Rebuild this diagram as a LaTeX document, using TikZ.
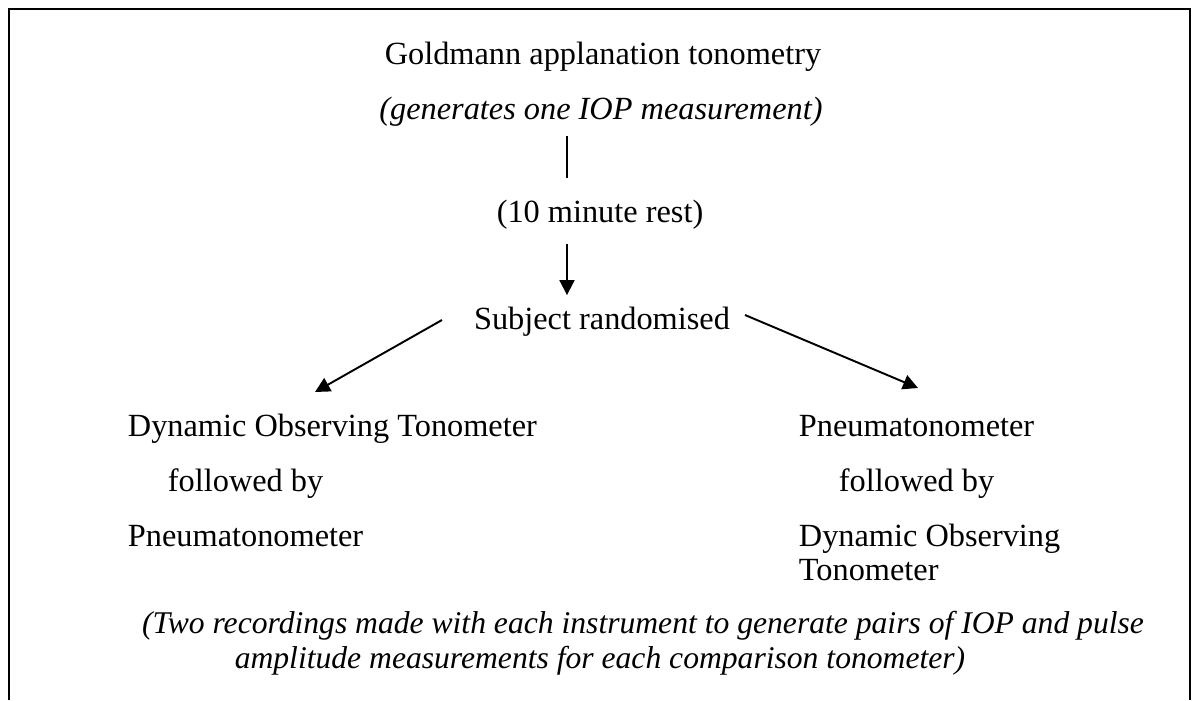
\documentclass[tikz,border=0pt]{standalone}
\usepackage{fontspec}
\setmainfont{Liberation Serif}
\usetikzlibrary{arrows.meta}
\begin{document}
\begin{tikzpicture}[x=0.02cm,y=-0.02cm,line width=1.1pt,>={Triangle[length=8.5pt,width=8.5pt]},
	font=\fontsize{18.4}{22}\selectfont,
	txt/.style={inner sep=0pt,anchor=base west},
	mid/.style={inner sep=0pt,anchor=base},
	note/.style={mid,font=\fontsize{18}{22}\selectfont\itshape}]
		\useasboundingbox (0,0) rectangle (1197,700);
		\draw (9,700)--(9,9)--(1190,9)--(1190,700);
		\node[mid] (gold) at (603,64) {Goldmann applanation tonometry};
		\node[mid] (gen) at (601,119) {\itshape (generates one IOP measurement)};
		\node[mid] (rest) at (600,222) {(10 minute rest)};
		\node[mid] (subj) at (602,329) {Subject randomised};
		\node[txt] (dotA) at (127,436) {Dynamic Observing Tonometer};
		\node[txt] (folA) at (167,491) {followed by};
		\node[txt] (pneA) at (127,546) {Pneumatonometer};
		\node[txt] (pneB) at (798,436) {Pneumatonometer};
		\node[txt] (folB) at (838,491) {followed by};
		\node[txt] (dotB) at (798,546) {Dynamic Observing};
		\node[txt] (tonB) at (798,580) {Tonometer};
		\node[note] (note1) at (643,633) {(Two recordings made with each instrument to generate pairs of IOP and pulse};
		\node[note] (note2) at (600,668) {amplitude measurements for each comparison tonometer)};
		\coordinate (stem) at (567,0);
		\coordinate (endA) at (315,392);
		\coordinate (endB) at (918,388);
		\draw ([yshift=-5pt]gen.south -| stem)--([yshift=12pt]rest.north -| stem);
		\draw[->] ([yshift=-8pt]rest.south -| stem)--([yshift=6pt]subj.north -| stem);
		\draw[->] (442,320)--(endA);
		\draw[->] (745,315)--(endB);
	\end{tikzpicture}
\end{document}
